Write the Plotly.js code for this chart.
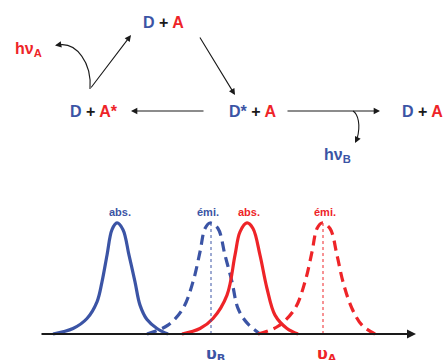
<!DOCTYPE html>
<html><head><meta charset="utf-8">
<script src="https://cdn.plot.ly/plotly-3.0.1.min.js"></script>
<style>html,body{margin:0;padding:0;background:#fff;overflow:hidden}</style>
</head><body><div id="chart" style="width:443px;height:360px"></div>
<script>
// Spectra (frequency in arbitrary units, normalised intensity)
const blueAbsFreq = [53, 73, 87, 97, 102, 107, 112, 117, 123, 129, 135, 140, 147, 157, 168];
const blueAbsInt  = [0, 0.05, 0.14, 0.29, 0.47, 0.71, 0.94, 1.0, 0.94, 0.71, 0.47, 0.26, 0.13, 0.05, 0];
const blueEmiFreq = [147, 168, 183, 193, 200, 205, 210, 218, 225, 232, 238, 247, 260];
const blueEmiInt  = [0, 0.08, 0.23, 0.47, 0.74, 0.95, 1.0, 0.95, 0.71, 0.47, 0.23, 0.1, 0];
const redAbsFreq  = [182, 200, 213, 227, 235, 240, 247, 253, 260, 267, 275, 287, 298];
const redAbsInt   = [0, 0.05, 0.14, 0.35, 0.71, 0.92, 1.0, 0.95, 0.71, 0.41, 0.17, 0.05, 0];
const redEmiFreq  = [258, 278, 295, 305, 312, 317, 322, 330, 337, 343, 352, 362, 375];
const redEmiInt   = [0, 0.07, 0.23, 0.47, 0.74, 0.95, 1.0, 0.95, 0.71, 0.47, 0.23, 0.08, 0];
const emissionFreqs = [211, 323];            // nu_B, nu_A
const emissionLabels = ['υ<sub>B</sub>', 'υ<sub>A</sub>'];
const peakLabels = ['abs.', 'émi.', 'abs.', 'émi.'];
const axisFreqRange = [40, 416];

const BLUE = '#3b54a5', RED = '#ee2428', BLACK = '#1a1a1a';
const b = t => '<span style="color:' + BLUE + '">' + t + '</span>';
const r = t => '<span style="color:' + RED + '">' + t + '</span>';
const speciesLabels = [
  b('D') + ' + ' + r('A'),
  b('D') + ' + ' + r('A*'),
  b('D*') + ' + ' + r('A'),
  b('D') + ' + ' + r('A')
];
const photonLabels = ['hν<sub>A</sub>', 'hν<sub>B</sub>'];

const traces = [
  {x: blueAbsFreq, y: blueAbsInt, yaxis: 'y2', mode: 'lines', line: {color: BLUE, width: 3.2, shape: 'spline', smoothing: 1}, hoverinfo: 'skip'},
  {x: blueEmiFreq, y: blueEmiInt, yaxis: 'y2', mode: 'lines', line: {color: BLUE, width: 3.2, shape: 'spline', smoothing: 1, dash: '10px,6px'}, hoverinfo: 'skip'},
  {x: redAbsFreq, y: redAbsInt, yaxis: 'y2', mode: 'lines', line: {color: RED, width: 3.2, shape: 'spline', smoothing: 1}, hoverinfo: 'skip'},
  {x: redEmiFreq, y: redEmiInt, yaxis: 'y2', mode: 'lines', line: {color: RED, width: 3.2, shape: 'spline', smoothing: 1, dash: '10px,6px'}, hoverinfo: 'skip'},
  {x: [emissionFreqs[0], emissionFreqs[0]], y: [0, 1], yaxis: 'y2', mode: 'lines', line: {color: BLUE, width: 1, dash: 'dot'}, hoverinfo: 'skip'},
  {x: [emissionFreqs[1], emissionFreqs[1]], y: [0, 1], yaxis: 'y2', mode: 'lines', line: {color: RED, width: 1, dash: 'dot'}, hoverinfo: 'skip'}
];

const FONT = 'Liberation Sans, Arial, sans-serif';
const ann = [];
// species labels (diagram, pixel-like coordinates on x / y)
const spPos = [[163, 22], [94, 111], [252, 111], [422, 111]];
speciesLabels.forEach((t, i) => ann.push({xref: 'x', yref: 'y', x: spPos[i][0], y: spPos[i][1], text: '<b>' + t + '</b>', showarrow: false, font: {family: FONT, size: 16, color: BLACK}, xanchor: 'center', yanchor: 'middle'}));
ann.push({xref: 'x', yref: 'y', x: 28, y: 49, text: '<b>' + photonLabels[0] + '</b>', showarrow: false, font: {family: FONT, size: 16, color: RED}});
ann.push({xref: 'x', yref: 'y', x: 337, y: 155, text: '<b>' + photonLabels[1] + '</b>', showarrow: false, font: {family: FONT, size: 16, color: BLUE}});
// straight arrows
const arrows = [[90, 89, 131, 35], [199, 36, 235, 95], [205, 111, 131, 111], [286, 111, 380, 111]];
arrows.forEach(a => ann.push({xref: 'x', yref: 'y', axref: 'x', ayref: 'y', ax: a[0], ay: a[1], x: a[2], y: a[3], text: '', showarrow: true, arrowhead: 2, arrowsize: 1.15, arrowwidth: 1.1, arrowcolor: BLACK, standoff: 0}));
// arrow heads at the ends of curved paths
ann.push({xref: 'x', yref: 'y', axref: 'x', ayref: 'y', ax: 63, ay: 44.2, x: 55, y: 45.5, text: '', showarrow: true, arrowhead: 2, arrowsize: 1.15, arrowwidth: 1.1, arrowcolor: BLACK, standoff: 0});
ann.push({xref: 'x', yref: 'y', axref: 'x', ayref: 'y', ax: 358, ay: 137, x: 355, y: 143, text: '', showarrow: true, arrowhead: 2, arrowsize: 1.15, arrowwidth: 1.1, arrowcolor: BLACK, standoff: 0});
// frequency axis with arrow
ann.push({xref: 'x', yref: 'y2', axref: 'x', ayref: 'y2', ax: axisFreqRange[0], ay: 0, x: axisFreqRange[1], y: 0, text: '', showarrow: true, arrowhead: 2, arrowsize: 1, arrowwidth: 1.8, arrowcolor: BLACK, standoff: 0});
// peak labels
const peakX = [120, 208, 249, 325];
const peakCol = [BLUE, BLUE, RED, RED];
peakLabels.forEach((t, i) => ann.push({xref: 'x', yref: 'y2', x: peakX[i], y: 1.1, text: '<b>' + t + '</b>', showarrow: false, font: {family: FONT, size: 11, color: peakCol[i]}, yanchor: 'middle'}));
// nu labels
emissionLabels.forEach((t, i) => ann.push({xref: 'x', yref: 'y2', x: emissionFreqs[i] + 4, y: -0.074, text: '<b>' + t + '</b>', showarrow: false, font: {family: 'DejaVu Sans, sans-serif', size: 16, color: i === 0 ? BLUE : RED}, yanchor: 'top'}));

const shapes = [
  {type: 'path', xref: 'x', yref: 'y', path: 'M90,89 C92,62 76,43 60,44.8', line: {color: BLACK, width: 1.1}},
  {type: 'path', xref: 'x', yref: 'y', path: 'M353,111 C358,114 361,125 357,139', line: {color: BLACK, width: 1.1}}
];

const layout = {
  width: 443, height: 360,
  margin: {l: 0, r: 0, t: 0, b: 0},
  paper_bgcolor: '#ffffff', plot_bgcolor: 'rgba(0,0,0,0)',
  showlegend: false,
  xaxis: {range: [0, 443], visible: false, domain: [0, 1], fixedrange: true},
  yaxis: {range: [360, 0], visible: false, domain: [0, 1], fixedrange: true},
  yaxis2: {range: [-0.234, 1.387], visible: false, domain: [0, 0.5], anchor: 'x', fixedrange: true},
  annotations: ann,
  shapes: shapes
};
Plotly.newPlot('chart', traces, layout, {staticPlot: true, displayModeBar: false});
</script></body></html>
